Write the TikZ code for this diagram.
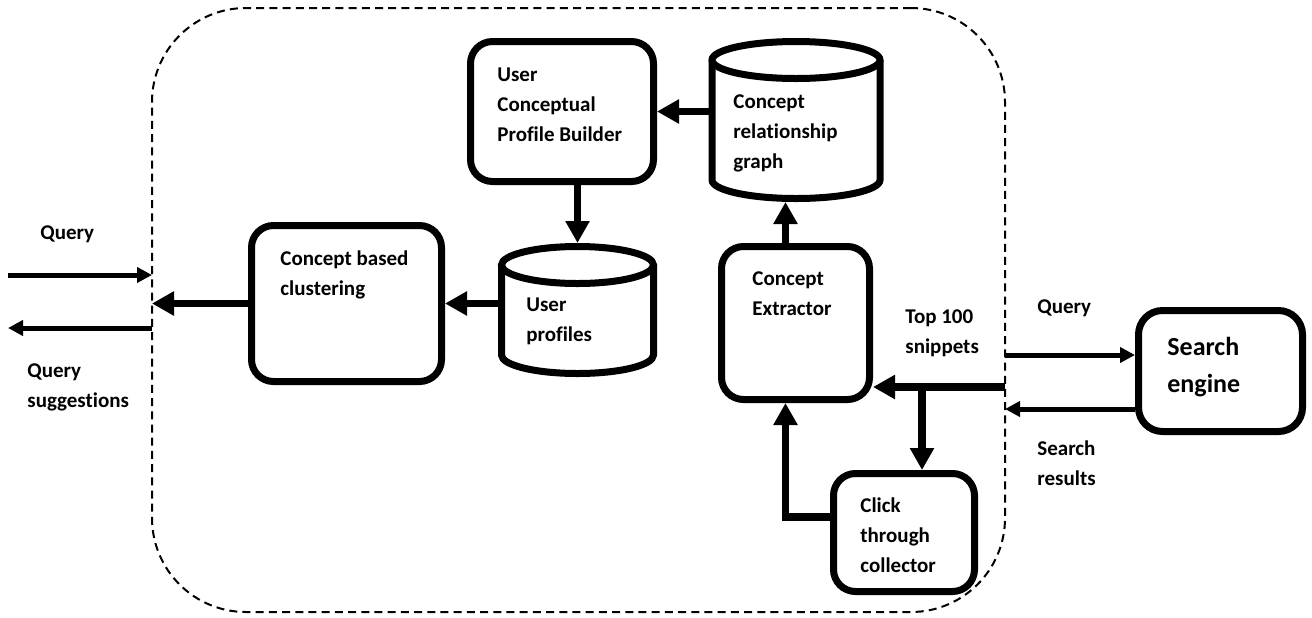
\documentclass[tikz,border=0pt]{standalone}
\usepackage{fontspec}
\setmainfont[RawFeature={-liga}]{Carlito}
\usetikzlibrary{arrows.meta}
% left-aligned multi-line text whose baseline is that of its first line
\newcommand{\stacked}[1]{\begin{tabular}[t]{@{}l@{}}#1\end{tabular}}
\begin{document}
\begin{tikzpicture}[x=0.5pt, y=-0.5pt,
  procbox/.style={draw, line width=3.5pt, rounded corners=11pt, inner sep=0pt, outer sep=1.75pt},
  dbnode/.style={inner sep=0pt, outer sep=1.75pt},
  dbline/.style={line width=3.5pt},
  boundary/.style={draw, line width=1pt, dash pattern=on 4pt off 2.6pt, rounded corners=47pt, inner sep=0pt, outer sep=0pt},
  flow/.style={line width=3.75pt, -{Triangle[length=11pt,width=11.5pt]}},
  io/.style={line width=2.5pt, -{Triangle[length=7.5pt,width=7.5pt]}},
  lbl/.style={inner sep=0pt, anchor=base west, font=\bfseries\fontsize{10.5pt}{15pt}\selectfont},
  biglbl/.style={inner sep=0pt, anchor=base west, font=\bfseries\fontsize{13pt}{18.5pt}\selectfont}]
\useasboundingbox (0,0) rectangle (1312,617);

% system boundary
\node[boundary, minimum width=426.5pt, minimum height=302pt] (sys) at (578.5,310) {};

% processing boxes
\node[procbox, minimum width=91.5pt, minimum height=70pt] (upb) at (562,111.5) {};
\node[procbox, minimum width=95pt, minimum height=78pt] (cbc) at (346.5,303.5) {};
\node[procbox, minimum width=74pt, minimum height=76.5pt] (ce) at (795.5,323) {};
\node[procbox, minimum width=70.5pt, minimum height=59pt] (ctc) at (904,532.5) {};
\node[procbox, rounded corners=12pt, minimum width=82pt, minimum height=60.5pt] (se) at (1220.5,371) {};

% data stores (cylinders); the node gives the outline, the path the drawing
% ellipse y radius 9.25pt, half border 1.75pt
\node[dbnode, minimum width=84pt, minimum height=78.5pt] (crg) at (796,120) {};
\draw[dbline] ([shift={(1.75pt,-11pt)}]crg.north west) -- ([shift={(1.75pt,11pt)}]crg.south west)
  arc[start angle=180, end angle=360, x radius=42pt, y radius=9.25pt]
  -- ([shift={(-1.75pt,-11pt)}]crg.north east);
\draw[dbline] ([yshift=-11pt]crg.north) ellipse [x radius=42pt, y radius=9.25pt];

\node[dbnode, minimum width=76pt, minimum height=63.5pt] (up) at (577.5,310) {};
\draw[dbline] ([shift={(1.75pt,-11pt)}]up.north west) -- ([shift={(1.75pt,11pt)}]up.south west)
  arc[start angle=180, end angle=360, x radius=38pt, y radius=9.25pt]
  -- ([shift={(-1.75pt,-11pt)}]up.north east);
\draw[dbline] ([yshift=-11pt]up.north) ellipse [x radius=38pt, y radius=9.25pt];

% texts
\node[lbl] (tupb) at (497,81) {\stacked{User\\Conceptual\\Profile Builder}};
\node[lbl] (tcrg) at (733,108) {\stacked{Concept\\relationship\\graph}};
\node[lbl] (tcbc) at (280,265) {\stacked{Concept based\\clustering}};
\node[lbl] (tup) at (526,311) {\stacked{User\\profiles}};
\node[lbl] (tce) at (752,285) {\stacked{Concept\\Extractor}};
\node[lbl] (tctc) at (860,512) {\stacked{Click\\through\\collector}};
\node[biglbl] (tse) at (1167,355) {\stacked{Search\\engine}};
\node[lbl] (tqin) at (40,239) {Query};
\node[lbl] (tqout) at (27,377) {\stacked{Query\\suggestions}};
\node[lbl] (ttop) at (905,323) {\stacked{Top 100\\snippets}};
\node[lbl] (tqse) at (1037,313) {Query};
\node[lbl] (tres) at (1037,455) {\stacked{Search\\results}};

% connector end points
\coordinate (qin) at (8,275);
\coordinate (qout) at (8,328);
\coordinate (rin) at (1005,387);
\coordinate (j) at (922,387);
\coordinate (sq) at (1005,355);
\coordinate (sr) at (1005,409);

% internal flows
\draw[flow] (crg.west |- upb.east) -- (upb.east);
\draw[flow] (up.north |- upb.south) -- (up.north);
\draw[flow] (up.west |- cbc.east) -- (cbc.east);
\draw[flow] (cbc.west) -- (cbc.west -| sys.west);
\draw[flow] ([xshift=-5pt]ce.north) -- ([xshift=-5pt]ce.north |- crg.south);
\draw[flow] (rin) -- (rin -| ce.east);
\draw[flow] (j) -- (j |- ctc.north);
\draw[flow] ([yshift=7.75pt]ctc.west) -| ([xshift=-5pt]ce.south);

% external flows
\draw[io] (qin) -- (qin -| sys.west);
\draw[io] (qout -| sys.west) -- (qout);
\draw[io] (sq) -- (sq -| se.west);
\draw[io] (sr -| se.west) -- (sr);
\end{tikzpicture}
\end{document}
